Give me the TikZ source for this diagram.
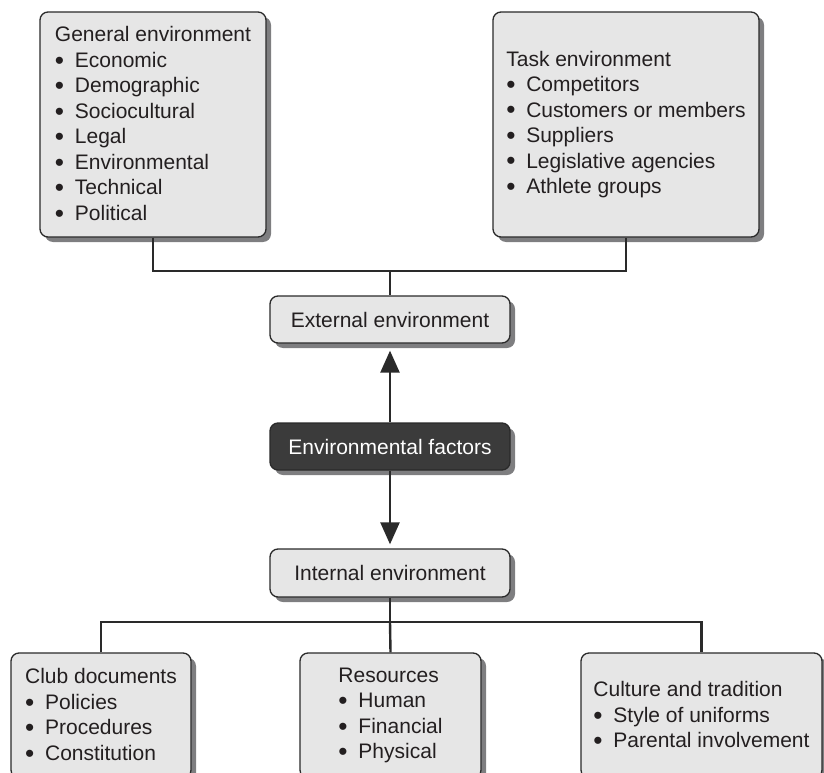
\documentclass[tikz,border=0pt]{standalone}
\usepackage{fontspec}
\setmainfont{Liberation Sans}
\usetikzlibrary{arrows.meta,shadows}
\definecolor{boxfill}{HTML}{E6E6E6}
\definecolor{boxline}{HTML}{2A2A2A}
\definecolor{shade}{HTML}{7E7E80}
\definecolor{darkfill}{HTML}{3B3B3B}
\definecolor{ink}{HTML}{231F20}
\newcommand{\itm}{\makebox[20pt][l]{\raisebox{-1.8pt}{\scalebox{1.25}{\textbullet}}}}
\tikzset{
  envbox/.style={draw=boxline, line width=1.3pt, fill=boxfill, rounded corners=8pt,
    text=ink, align=left, inner sep=0pt,
    font=\fontsize{21pt}{25.5pt}\selectfont,
    drop shadow={shadow xshift=5pt, shadow yshift=-5pt, fill=shade, opacity=1}},
  keybox/.style={envbox, fill=darkfill, text=white},
  link/.style={draw=boxline, line width=2.4pt},
  flow/.style={link, -{Triangle[width=19pt,length=22pt]}}
}
\begin{document}
\begin{tikzpicture}[x=1pt,y=-1pt]
\path[use as bounding box, clip] (0,0) rectangle (824,773);

% outer environment groups
\node[envbox, minimum width=226pt, minimum height=225pt] (gen) at (153,124.5)
  {General environment\\ \itm Economic\\ \itm Demographic\\ \itm Sociocultural\\ \itm Legal\\ \itm Environmental\\ \itm Technical\\ \itm Political};
\node[envbox, minimum width=266pt, minimum height=225pt] (task) at (626,124.5)
  {Task environment\\ \itm Competitors\\ \itm Customers or members\\ \itm Suppliers\\ \itm Legislative agencies\\ \itm Athlete groups};

% central column
\node[envbox, minimum width=240pt, minimum height=47pt] (ext) at (390,319.5) {External environment};
\node[keybox, minimum width=240pt, minimum height=47pt] (envf) at (390,446.5) {Environmental factors};
\node[envbox, minimum width=240pt, minimum height=48pt] (int) at (390,573) {Internal environment};

% inner environment groups
\node[envbox, minimum width=180pt, minimum height=125pt] (club) at (101,715.5)
  {Club documents\\ \itm Policies\\ \itm Procedures\\ \itm Constitution};
\node[envbox, minimum width=181pt, minimum height=125pt] (res) at (390.5,715.5)
  {Resources\\ \itm Human\\ \itm Financial\\ \itm Physical};
\node[envbox, minimum width=241pt, minimum height=125pt] (cult) at (701.5,715.5)
  {Culture and tradition\\ \itm Style of uniforms\\ \itm Parental involvement};

% tree connectors
\coordinate (jt) at (390,271);
\coordinate (jb) at (390,622);
\draw[link] (gen.south) |- (jt) -| (task.south);
\draw[link] (jt) -- (ext.north);
\draw[link] (int.south) -- (jb);
\draw[link] (club.north) |- (jb) -| (cult.north);
\draw[link] (jb) -- (res.north);

% arrows
\draw[flow, shorten >=7pt] (envf.north) -- (ext.south);
\draw[flow, shorten >=4pt] (envf.south) -- (int.north);
\end{tikzpicture}
\end{document}
